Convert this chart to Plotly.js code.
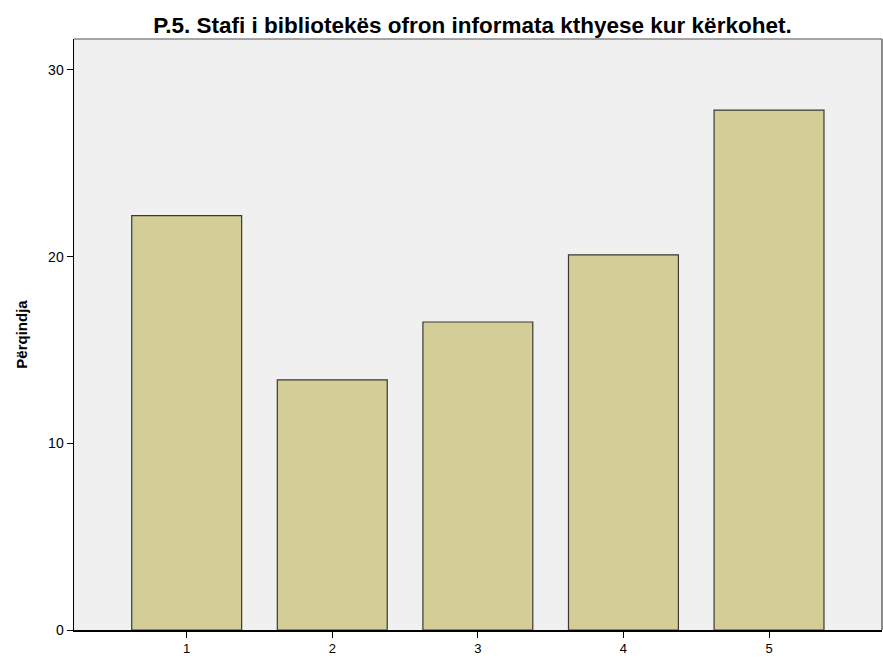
<!DOCTYPE html>
<html>
<head>
<meta charset="utf-8">
<script src="https://cdn.plot.ly/plotly-3.0.1.min.js"></script>
<style>html,body{margin:0;padding:0;background:#fff;}#chart{width:883px;height:660px;}</style>
</head>
<body>
<div id="chart"></div>
<script>
var categories = ["1", "2", "3", "4", "5"];
var percentages = [22.2, 13.4, 16.5, 20.1, 27.85];
var yTickValues = [0, 10, 20, 30];
var chartTitle = "P.5. Stafi i bibliotekës ofron informata kthyese kur kërkohet.";
var yTitle = "Përqindja";

var xs = categories.map(function (c) { return Number(c); });

var trace = {
  type: "bar",
  x: xs,
  y: percentages,
  width: 0.755,
  marker: { color: "#d3ce98", line: { color: "#3a3a30", width: 1.2 } },
  hoverinfo: "none"
};

var layout = {
  width: 883,
  height: 660,
  margin: { l: 74, r: 1, t: 39, b: 30 },
  paper_bgcolor: "#ffffff",
  plot_bgcolor: "#f0f0f0",
  showlegend: false,
  font: { family: "Liberation Sans, Arial, sans-serif", color: "#000" },
  title: {
    text: "<b>" + chartTitle + "</b>",
    font: { size: 22.5, family: "Liberation Sans, Arial, sans-serif", color: "#000" },
    x: 0.535, xanchor: "center", y: 0.962, yanchor: "middle"
  },
  xaxis: {
    range: [0.226, 5.776],
    tickvals: xs,
    ticktext: categories,
    ticks: "outside", ticklen: 6, tickcolor: "#000", tickwidth: 1,
    showgrid: false, zeroline: false,
    showline: true, linecolor: "#000", linewidth: 1.5,
    tickfont: { size: 13, color: "#000" },
    fixedrange: true
  },
  yaxis: {
    range: [0, 31.66],
    tickvals: yTickValues,
    ticktext: yTickValues.map(String),
    ticks: "outside", ticklen: 6, tickcolor: "#000", tickwidth: 1,
    ticklabelstandoff: 0,
    showgrid: false, zeroline: false,
    showline: true, linecolor: "#000", linewidth: 1.5,
    tickfont: { size: 14, color: "#000" },
    title: { text: "<b>" + yTitle + "</b>", font: { size: 15, color: "#000" }, standoff: 17 },
    fixedrange: true
  },
  shapes: [
    { type: "line", xref: "paper", yref: "paper", x0: 0, x1: 1, y0: 1, y1: 1, line: { color: "#888", width: 1.5 } },
    { type: "line", xref: "paper", yref: "paper", x0: 1, x1: 1, y0: 0, y1: 1, line: { color: "#666", width: 1.5 } }
  ]
};

Plotly.newPlot("chart", [trace], layout, { displayModeBar: false, staticPlot: true });
</script>
</body>
</html>
